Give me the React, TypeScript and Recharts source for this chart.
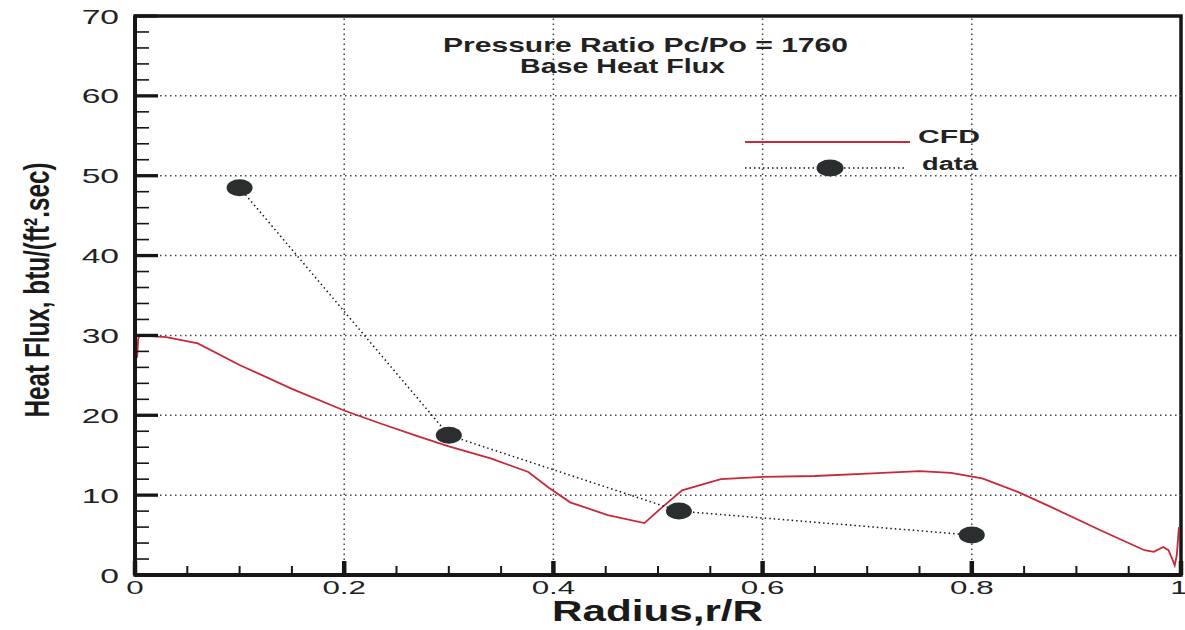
import {
  Legend,
  Line,
  LineChart,
  ReferenceArea,
  ReferenceLine,
  XAxis,
  YAxis,
} from 'recharts'

// CFD base heat flux profile
const cfdRadius = [
  0.002, 0.003, 0.004, 0.03, 0.06, 0.1, 0.15, 0.2, 0.234, 0.27, 0.3, 0.34,
  0.376, 0.395, 0.416, 0.452, 0.487, 0.505, 0.523, 0.56, 0.6, 0.65, 0.7, 0.75,
  0.78, 0.81, 0.844, 0.876, 0.923, 0.965, 0.974, 0.983, 0.988, 0.991, 0.994,
  0.996, 0.998,
]
const cfdHeatFlux = [
  27.2, 29.5, 30.0, 29.8, 29.0, 26.3, 23.3, 20.6, 19.0, 17.4, 16.1, 14.6, 12.9,
  11.0, 9.1, 7.5, 6.5, 8.6, 10.6, 12.0, 12.3, 12.4, 12.7, 13.0, 12.8, 12.1,
  10.4, 8.5, 5.6, 3.1, 2.9, 3.5, 3.1, 2.2, 1.2, 2.5, 6.0,
]

// measured data points
const dataRadius = [0.1, 0.3, 0.52, 0.8]
const dataHeatFlux = [48.5, 17.5, 8.0, 5.0]

// axes
const xTicks = [
  0, 0.05, 0.1, 0.15, 0.2, 0.25, 0.3, 0.35, 0.4, 0.45, 0.5, 0.55, 0.6, 0.65,
  0.7, 0.75, 0.8, 0.85, 0.9, 0.95, 1,
]
const xMajorTicks = [0, 0.2, 0.4, 0.6, 0.8, 1]
const xTickLabels = ['0', '0.2', '0.4', '0.6', '0.8', '1']
const yTicks = [
  0, 2, 4, 6, 8, 10, 12, 14, 16, 18, 20, 22, 24, 26, 28, 30, 32, 34, 36, 38,
  40, 42, 44, 46, 48, 50, 52, 54, 56, 58, 60, 62, 64, 66, 68, 70,
]
const yMajorTicks = [0, 10, 20, 30, 40, 50, 60, 70]
const yTickLabels = ['0', '10', '20', '30', '40', '50', '60', '70']
const xGrid = [0.2, 0.4, 0.6, 0.8]
const yGrid = [10, 20, 30, 40, 50, 60]

const RED = '#c9283a'
const INK = '#161616'
const DOT = '#2a2e2e'
const FONT = "'Liberation Sans', Arial, Helvetica, sans-serif"

const cfdRows = cfdRadius.map((r, i) => ({ r, q: cfdHeatFlux[i] }))
const dataRows = dataRadius.map((r, i) => ({ r, q: dataHeatFlux[i] }))

function majorIndex(list: number[], v: number) {
  return list.findIndex((m) => Math.abs(m - v) < 1e-6)
}

function XTick(props: any) {
  const { x, y, payload } = props
  const idx = majorIndex(xMajorTicks, payload.value)
  const major = idx >= 0
  const last = idx === xMajorTicks.length - 1
  return (
    <g>
      <line
        x1={x}
        x2={x}
        y1={y}
        y2={y - (major ? 14 : 9)}
        stroke={INK}
        strokeWidth={major ? 4.5 : 2}
      />
      {major && (
        <text
          transform={`translate(${last ? x - 2 : x},${y + 19}) scale(1.65,1)`}
          textAnchor="middle"
          fontFamily={FONT}
          fontSize={19}
          fill="#222"
        >
          {xTickLabels[idx]}
        </text>
      )}
    </g>
  )
}

function YTick(props: any) {
  const { x, y, payload } = props
  const idx = majorIndex(yMajorTicks, payload.value)
  const major = idx >= 0
  return (
    <g>
      <line
        x1={x}
        x2={x + (major ? 23 : 14)}
        y1={y}
        y2={y}
        stroke={INK}
        strokeWidth={major ? 3.3 : 1.6}
      />
      {major && (
        <text
          transform={`translate(${x - 16},${y + 7.5}) scale(1.6,1)`}
          textAnchor="end"
          fontFamily={FONT}
          fontSize={21}
          fill="#222"
        >
          {yTickLabels[idx]}
        </text>
      )}
    </g>
  )
}

function DataDot(props: any) {
  const { cx, cy, index } = props
  if (cx == null || cy == null) return <g key={index} />
  return <ellipse key={index} cx={cx} cy={cy} rx={13} ry={8.5} fill={DOT} />
}

function LegendBox() {
  return (
    <svg width={270} height={60}>
      <line x1={5} x2={170} y1={17} y2={17} stroke={RED} strokeWidth={2} />
      <text
        x={178}
        y={18}
        fontFamily={FONT}
        fontWeight="bold"
        fontSize={19}
        fill="#222"
        textLength={62}
        lengthAdjust="spacingAndGlyphs"
      >
        CFD
      </text>
      <line
        x1={5}
        x2={167}
        y1={43}
        y2={43}
        stroke={INK}
        strokeWidth={1.5}
        strokeDasharray="1.5 3"
      />
      <ellipse cx={90} cy={43} rx={13.5} ry={8.5} fill={DOT} />
      <text
        x={182}
        y={45}
        fontFamily={FONT}
        fontWeight="bold"
        fontSize={18}
        fill="#222"
        textLength={56}
        lengthAdjust="spacingAndGlyphs"
      >
        data
      </text>
    </svg>
  )
}

export default function App() {
  return (
    <div
      style={{
        position: 'absolute',
        left: 0,
        top: 0,
        width: 1185,
        height: 630,
        background: '#fff',
      }}
    >
      <LineChart
        width={1185}
        height={630}
        margin={{ top: 16, right: 4, bottom: 0, left: 0 }}
      >
        {yGrid.map((v) => (
          <ReferenceLine
            key={`gy${v}`}
            y={v}
            stroke="#444"
            strokeWidth={1.5}
            strokeDasharray="1.5 3.5"
          />
        ))}
        {xGrid.map((v) => (
          <ReferenceLine
            key={`gx${v}`}
            x={v}
            stroke="#444"
            strokeWidth={1.5}
            strokeDasharray="1.5 3.5"
          />
        ))}
        <XAxis
          type="number"
          dataKey="r"
          domain={[0, 1]}
          ticks={xTicks}
          interval={0}
          allowDataOverflow
          height={55}
          tickSize={0}
          tickMargin={0}
          tickLine={false}
          axisLine={{ stroke: INK, strokeWidth: 4 }}
          tick={<XTick />}
        />
        <YAxis
          type="number"
          domain={[0, 70]}
          ticks={yTicks}
          interval={0}
          allowDataOverflow
          width={135}
          tickSize={0}
          tickMargin={0}
          tickLine={false}
          axisLine={{ stroke: INK, strokeWidth: 4 }}
          tick={<YTick />}
        />
        <ReferenceArea
          x1={0}
          x2={1}
          y1={0}
          y2={70}
          fill="none"
          fillOpacity={0}
          stroke={INK}
          strokeWidth={3.5}
          ifOverflow="visible"
        />
        <Line
          data={cfdRows}
          dataKey="q"
          name="CFD"
          type="linear"
          stroke={RED}
          strokeWidth={1.8}
          dot={false}
          activeDot={false}
          isAnimationActive={false}
        />
        <Line
          data={dataRows}
          dataKey="q"
          name="data"
          type="linear"
          stroke={INK}
          strokeWidth={1.5}
          strokeDasharray="1.5 3"
          dot={(p: any) => <DataDot key={p.index} {...p} />}
          activeDot={false}
          isAnimationActive={false}
        />
        <Legend
          layout="vertical"
          align="center"
          verticalAlign="middle"
          content={() => <LegendBox />}
          wrapperStyle={{ left: 740, top: 125, width: 270, height: 60 }}
        />
      </LineChart>
      <svg
        width={1185}
        height={630}
        style={{ position: 'absolute', left: 0, top: 0, pointerEvents: 'none' }}
      >
        <text
          x={443}
          y={52}
          fontFamily={FONT}
          fontWeight="bold"
          fontSize={21}
          fill="#222"
          textLength={405}
          lengthAdjust="spacingAndGlyphs"
        >
          Pressure Ratio Pc/Po = 1760
        </text>
        <text
          x={520}
          y={73}
          fontFamily={FONT}
          fontWeight="bold"
          fontSize={21}
          fill="#222"
          textLength={205}
          lengthAdjust="spacingAndGlyphs"
        >
          Base Heat Flux
        </text>
        <text
          x={552}
          y={621}
          fontFamily={FONT}
          fontWeight="bold"
          fontSize={29}
          fill="#1a1a1a"
          textLength={211}
          lengthAdjust="spacingAndGlyphs"
        >
          Radius,r/R
        </text>
        <text
          transform="translate(49,290) rotate(-90)"
          textAnchor="middle"
          fontFamily={FONT}
          fontWeight="bold"
          fontSize={35}
          fill="#1a1a1a"
          textLength={255}
          lengthAdjust="spacingAndGlyphs"
        >
          Heat Flux, btu/(ft².sec)
        </text>
      </svg>
    </div>
  )
}
